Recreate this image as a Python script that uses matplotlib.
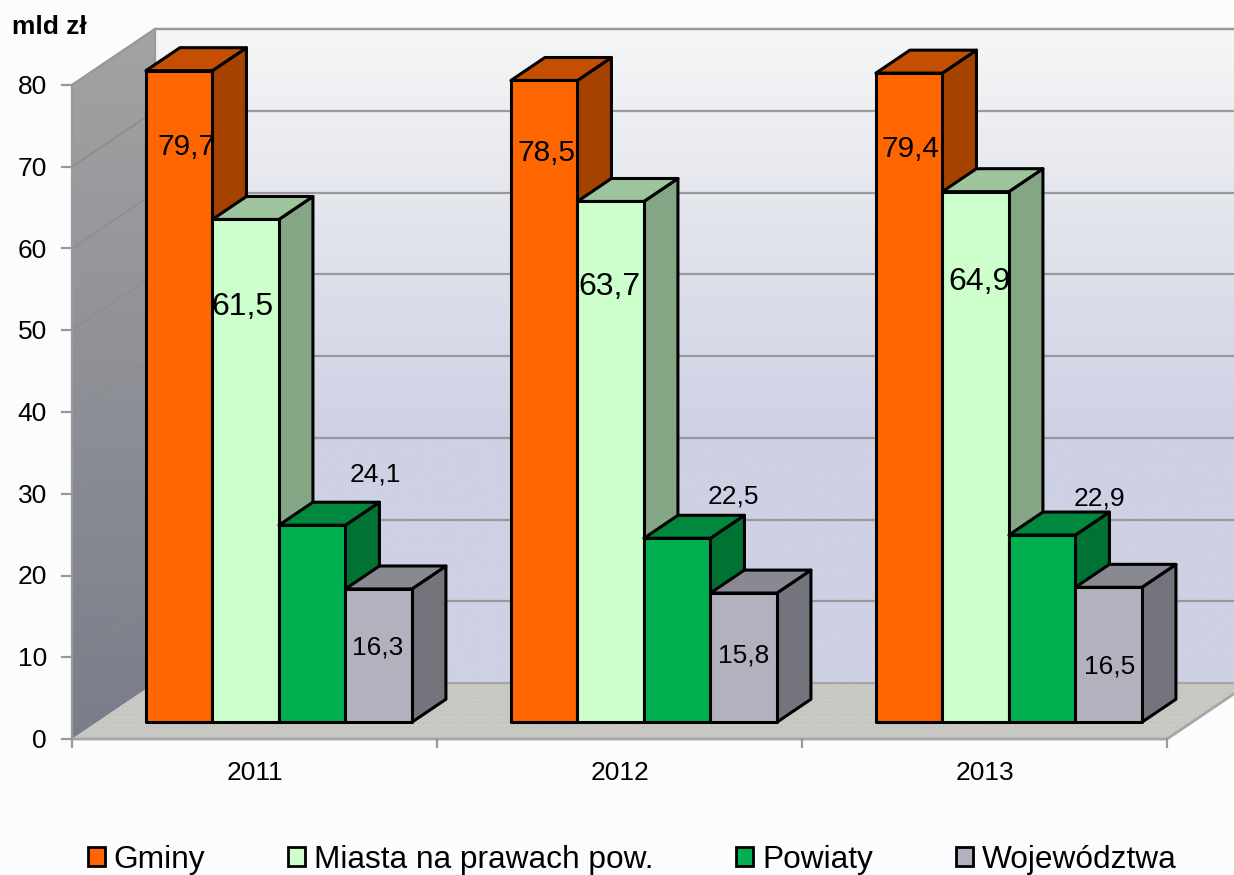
import matplotlib
matplotlib.use('Agg')
import matplotlib.pyplot as plt
import numpy as np
from matplotlib.patches import Polygon, Patch
from matplotlib.colors import to_rgb

years = ['2011', '2012', '2013']
series = ['Gminy', 'Miasta na prawach pow.', 'Powiaty', 'Województwa']
colors = ['#FF6600', '#CCFFCC', '#00B050', '#B2B2BE']
gminy = [79.7, 78.5, 79.4]
miasta = [61.5, 63.7, 64.9]
powiaty = [24.1, 22.5, 22.9]
wojewodztwa = [16.3, 15.8, 16.5]
yticks = [0, 10, 20, 30, 40, 50, 60, 70, 80]

# hand placed value labels, as in the original (centre x in category units, y in value units)
label_x = [[0.315, 0.466, 0.832, 0.838], [1.299, 1.473, 1.811, 1.840], [2.296, 2.486, 2.816, 2.844]]
label_y = [[72.4, 52.85, 32.3, 11.25], [71.7, 55.35, 29.65, 10.25], [72.2, 55.95, 29.45, 8.85]]
label_size = [21.5, 23, 19, 19]

BG = '#FBFCFE'
GRID = '#999999'
px_x = 365.0    # pixels per category
px_y = 8.175    # pixels per value unit
DX = 83 / px_x  # full depth of the box
DY = 56 / px_y


def pt(x, v, d=0.0):
    return (x + d * DX, v + d * DY)


def shade(c, f):
    return tuple(np.array(to_rgb(c)) * f)


plt.rcParams['font.family'] = ['Liberation Sans', 'DejaVu Sans']
plt.rcParams['hatch.linewidth'] = 0.6

fig = plt.figure(figsize=(12.34, 8.75), dpi=100, facecolor=BG)
ax = fig.add_axes([0, 0, 1, 1])
ax.set_xlim(-72 / px_x, (1234 - 72) / px_x)
ax.set_ylim(-(875 - 739) / px_y, 739 / px_y)
ax.axis('off')
lim = (ax.get_xlim(), ax.get_ylim())

# back wall
top = yticks[-1]
n = len(years)
wall = Polygon([pt(0, 0, 1), pt(0, top, 1), pt(n, top, 1), pt(n, 0, 1)], fc='none', ec='none', zorder=1)
ax.add_patch(wall)
t = np.clip(np.linspace(0, 1, 256) / 0.62, 0, 1)[:, None, None]
c_top = np.array([246, 246, 246]) / 255
c_bot = np.array([205, 209, 227]) / 255
im = ax.imshow(c_top * (1 - t) + c_bot * t, extent=[0, n + DX, 0 + DY, top + DY], origin='upper',
               aspect='auto', zorder=1)
im.set_clip_path(wall)

# side wall
side = Polygon([pt(0, 0), pt(0, top), pt(0, top, 1), pt(0, 0, 1)], fc='none', ec='none', zorder=1)
ax.add_patch(side)
t = np.linspace(0, 1, 256)[:, None, None]
c_top = np.array([163, 163, 163]) / 255
c_bot = np.array([122, 125, 138]) / 255
im = ax.imshow(c_top * (1 - t) + c_bot * t, extent=[0, DX, 0, top + DY], origin='upper',
               aspect='auto', zorder=1)
im.set_clip_path(side)

# grid on the walls
for v in yticks[1:]:
    ax.plot(*zip(pt(0, v, 1), pt(n, v, 1)), color=GRID, lw=1.6, zorder=2)
    ax.plot(*zip(pt(0, v), pt(0, v, 1)), color='#8C8C8C', lw=1.3, alpha=0.25 + 0.75 * v / top, zorder=2)

# floor
floor = [pt(0, 0), pt(n, 0), pt(n, 0, 1), pt(0, 0, 1)]
ax.add_patch(Polygon(floor, fc='#C6C6C2', ec='none', zorder=2))
ax.add_patch(Polygon(floor, fc='none', ec='#D2D2C4', hatch='....', lw=0, zorder=2))
ax.plot(*zip(pt(0, 0), pt(n, 0), pt(n, 0, 1)), color='#A6A6A6', lw=2, zorder=3)
ax.plot(*zip(pt(0, 0), pt(0, top), pt(0, top, 1), pt(n, top, 1)), color=GRID, lw=1.6, zorder=3)
ax.plot(*zip(pt(0, 0, 1), pt(0, top, 1)), color=GRID, lw=1.6, zorder=3)
ax.plot(*zip(pt(0, 0, 1), pt(n, 0, 1)), color='#A6A6A6', lw=1.6, zorder=3)

# axes ticks and labels
for v in yticks:
    ax.plot([-10 / px_x, 0], [v, v], color=GRID, lw=1.6, zorder=3)
    ax.text(-25 / px_x, v - 2 / px_y, str(v), ha='right', va='center', fontsize=19, color='black')
for i in range(n + 1):
    ax.plot([i, i], [0, -8 / px_y], color=GRID, lw=1.6, zorder=3)
for i, y in enumerate(years):
    ax.text(i + 0.5, -34 / px_y, y, ha='center', va='center', fontsize=19, color='black')
ax.text(12 / px_x - 72 / px_x, 712 / px_y, 'mld zł', ha='left', va='center', fontsize=19,
        fontweight='bold', color='black')

# bars
bar_w = 66.5 / px_x
start = 49 / px_x
d0, d1 = 0.30, 0.71
z = 5
for i in range(n):
    vals = [gminy[i], miasta[i], powiaty[i], wojewodztwa[i]]
    for j, val in enumerate(vals):
        x0 = i + start + j * bar_w
        x1 = x0 + bar_w
        kw = dict(ec='black', lw=2.2, joinstyle='round', zorder=z)
        ax.add_patch(Polygon([pt(x1, 0, d0), pt(x1, 0, d1), pt(x1, val, d1), pt(x1, val, d0)],
                             fc=shade(colors[j], 0.65), **kw))
        ax.add_patch(Polygon([pt(x0, val, d0), pt(x1, val, d0), pt(x1, val, d1), pt(x0, val, d1)],
                             fc=shade(colors[j], 0.77), **kw))
        ax.add_patch(Polygon([pt(x0, 0, d0), pt(x1, 0, d0), pt(x1, val, d0), pt(x0, val, d0)],
                             fc=colors[j], **kw))
        z += 1

for i in range(n):
    vals = [gminy[i], miasta[i], powiaty[i], wojewodztwa[i]]
    for j, val in enumerate(vals):
        ax.text(label_x[i][j], label_y[i][j], f'{val:.1f}'.replace('.', ','), ha='center', va='center',
                fontsize=label_size[j], color='black', zorder=100)

ax.set_xlim(lim[0])
ax.set_ylim(lim[1])

handles = [Patch(fc=c, ec='black', lw=2) for c in colors]
fig.legend(handles, series, ncols=4, loc='center', bbox_to_anchor=(632 / 1234, 1 - 860 / 875),
           frameon=False, fontsize=22.8, handlelength=0.54, handleheight=0.54, handletextpad=0.27,
           columnspacing=2.62, borderpad=0, labelcolor='black')

plt.savefig('out.png', dpi=100, facecolor=BG)
